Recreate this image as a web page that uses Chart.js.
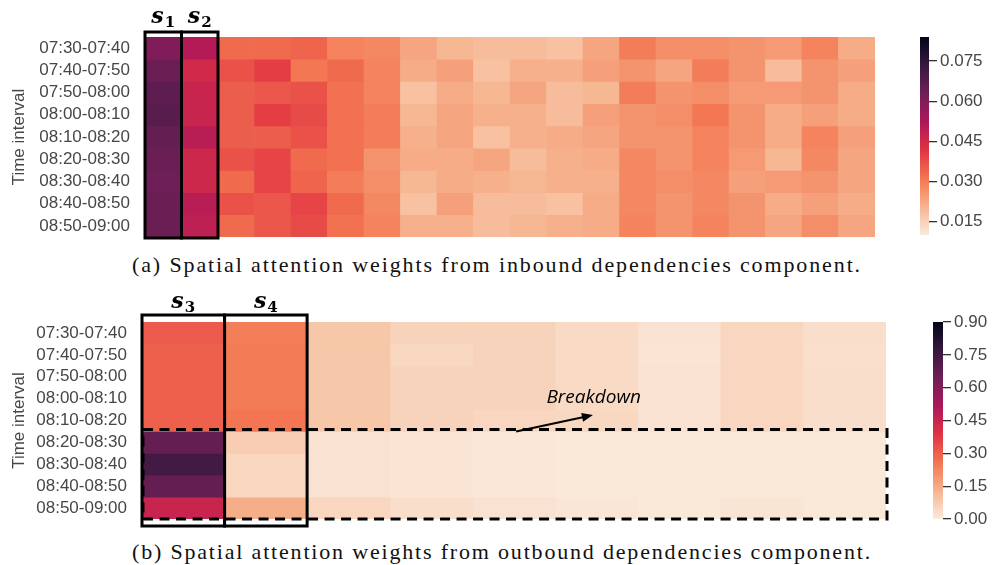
<!DOCTYPE html>
<html>
<head>
<meta charset="utf-8">
<script src="https://cdn.jsdelivr.net/npm/chart.js@4.4.1/dist/chart.umd.min.js"></script>
<style>
  html, body { margin: 0; padding: 0; background: #fff; }
  #fig { position: relative; width: 992px; height: 565px; overflow: hidden; background: #fff; }
  #fig canvas { position: absolute; }
  .caption {
    position: absolute; white-space: nowrap;
    font-family: "Liberation Serif", "DejaVu Serif", serif;
    font-size: 22px; color: #111; line-height: 24px;
  }
</style>
</head>
<body>
<div id="fig">
  <canvas id="heatIn" width="900" height="250" style="left:0;top:0"></canvas>
  <canvas id="barIn" width="92" height="250" style="left:900px;top:0"></canvas>
  <div class="caption" id="capIn" style="left:132px;top:253px">(a) Spatial attention weights from inbound dependencies component.</div>
  <canvas id="heatOut" width="900" height="250" style="left:0;top:285px"></canvas>
  <canvas id="barOut" width="92" height="250" style="left:900px;top:285px"></canvas>
  <div class="caption" id="capOut" style="left:132px;top:540px">(b) Spatial attention weights from outbound dependencies component.</div>
</div>
<script>
// Time-interval rows shared by both panels
const timeIntervals = [
  '07:30-07:40', '07:40-07:50', '07:50-08:00', '08:00-08:10', '08:10-08:20',
  '08:20-08:30', '08:30-08:40', '08:40-08:50', '08:50-09:00'
];

// Panel (a): inbound attention weights, 20 stations per interval
const inboundStations = Array.from({ length: 20 }, (_, i) => 's' + (i + 1));
const inboundWeights = [
  [0.060, 0.051, 0.033, 0.033, 0.034, 0.029, 0.028, 0.023, 0.020, 0.019, 0.019, 0.018, 0.023, 0.030, 0.027, 0.027, 0.026, 0.025, 0.029, 0.022],
  [0.064, 0.045, 0.037, 0.040, 0.031, 0.033, 0.029, 0.022, 0.024, 0.018, 0.021, 0.021, 0.024, 0.026, 0.023, 0.030, 0.026, 0.019, 0.026, 0.024],
  [0.066, 0.047, 0.035, 0.036, 0.037, 0.032, 0.029, 0.018, 0.022, 0.020, 0.023, 0.019, 0.020, 0.030, 0.026, 0.027, 0.025, 0.025, 0.026, 0.022],
  [0.067, 0.047, 0.035, 0.040, 0.038, 0.032, 0.030, 0.020, 0.023, 0.021, 0.021, 0.019, 0.024, 0.026, 0.027, 0.031, 0.026, 0.022, 0.024, 0.022],
  [0.065, 0.050, 0.035, 0.035, 0.037, 0.032, 0.030, 0.021, 0.023, 0.018, 0.021, 0.022, 0.023, 0.026, 0.026, 0.029, 0.026, 0.022, 0.029, 0.024],
  [0.064, 0.046, 0.037, 0.039, 0.033, 0.032, 0.026, 0.022, 0.022, 0.023, 0.019, 0.021, 0.022, 0.028, 0.026, 0.029, 0.025, 0.020, 0.028, 0.023],
  [0.063, 0.046, 0.033, 0.039, 0.034, 0.030, 0.027, 0.020, 0.022, 0.021, 0.020, 0.021, 0.021, 0.028, 0.027, 0.028, 0.024, 0.025, 0.026, 0.023],
  [0.064, 0.050, 0.037, 0.036, 0.039, 0.033, 0.028, 0.018, 0.024, 0.019, 0.019, 0.018, 0.022, 0.028, 0.026, 0.028, 0.026, 0.022, 0.024, 0.022],
  [0.064, 0.049, 0.033, 0.036, 0.038, 0.032, 0.029, 0.021, 0.021, 0.019, 0.020, 0.021, 0.022, 0.029, 0.026, 0.029, 0.026, 0.023, 0.027, 0.023]
];
const inboundRange = [0.010, 0.084];
const inboundTicks = [0.015, 0.030, 0.045, 0.060, 0.075];

// Panel (b): outbound attention weights, 9 stations per interval
const outboundStations = Array.from({ length: 9 }, (_, i) => 's' + (i + 3));
const outboundWeights = [
  [0.310, 0.240, 0.085, 0.055, 0.055, 0.040, 0.020, 0.050, 0.030],
  [0.300, 0.245, 0.085, 0.045, 0.055, 0.040, 0.015, 0.050, 0.028],
  [0.300, 0.245, 0.085, 0.055, 0.055, 0.040, 0.020, 0.050, 0.030],
  [0.300, 0.245, 0.085, 0.055, 0.055, 0.040, 0.020, 0.050, 0.030],
  [0.300, 0.260, 0.085, 0.055, 0.050, 0.045, 0.020, 0.050, 0.030],
  [0.670, 0.070, 0.020, 0.015, 0.010, 0.008, 0.008, 0.008, 0.008],
  [0.740, 0.050, 0.020, 0.015, 0.010, 0.008, 0.008, 0.008, 0.008],
  [0.670, 0.050, 0.020, 0.015, 0.010, 0.008, 0.008, 0.008, 0.008],
  [0.450, 0.140, 0.050, 0.030, 0.020, 0.012, 0.008, 0.015, 0.008]
];
const outboundRange = [0.0, 0.9];
const outboundTicks = [0.00, 0.15, 0.30, 0.45, 0.60, 0.75, 0.90];

// Reversed "rocket" colour map: 0 -> pale cream, 1 -> near black
const rocketStops = [
  [0, '#03051a'], [1 / 7, '#35193e'], [2 / 7, '#701f57'], [3 / 7, '#ad1759'],
  [4 / 7, '#e13342'], [5 / 7, '#f37651'], [6 / 7, '#f6b48f'], [1, '#faebdd']
];
function hexRgb(h) { return [1, 3, 5].map(i => parseInt(h.slice(i, i + 2), 16)); }
function rocketR(t) {
  const p = 1 - Math.min(1, Math.max(0, t));
  for (let i = 1; i < rocketStops.length; i++) {
    const [p1, c1] = rocketStops[i];
    if (p <= p1) {
      const [p0, c0] = rocketStops[i - 1];
      const f = (p - p0) / (p1 - p0);
      const a = hexRgb(c0), b = hexRgb(c1);
      return 'rgb(' + a.map((v, k) => Math.round(v + (b[k] - v) * f)).join(',') + ')';
    }
  }
  return rocketStops[rocketStops.length - 1][1];
}

const labelFont = { family: '"Liberation Sans", Arial, sans-serif', size: 17 };
const textGrey = '#474747';

// Boxes, station labels, dashed region and note drawn on top of a heatmap
const panelMarks = {
  id: 'panelMarks',
  afterDatasetsDraw(chart, args, o) {
    const { ctx, chartArea: a, scales: { x, y } } = chart;
    const colW = (a.right - a.left) / chart.data.labels.length;
    ctx.save();
    ctx.strokeStyle = '#000';
    ctx.fillStyle = '#000';
    if (o.dashed) {
      const top = y.getPixelForValue(o.dashed.fromRow) - 2;
      ctx.lineWidth = 3;
      ctx.setLineDash([10, 6.5]);
      ctx.strokeRect(a.left, top, a.right - a.left + 1, a.bottom - top);
      ctx.setLineDash([]);
    }
    (o.boxes || []).forEach(b => {
      const cx = x.getPixelForValue(b.col);
      const left = cx - colW / 2 + (o.boxShift || 0);
      ctx.lineWidth = 3;
      ctx.strokeRect(left, a.top - o.boxTop, colW, a.bottom - a.top + o.boxTop + o.boxBottom);
      const base = a.top - o.boxTop - o.labelGap;
      ctx.font = 'bold italic 22px "DejaVu Serif", "Liberation Serif", serif';
      const sw = ctx.measureText('s').width;
      ctx.font = 'bold 15px "DejaVu Serif", "Liberation Serif", serif';
      const nw = ctx.measureText(b.sub).width;
      const start = cx + (o.boxShift || 0) - (sw + nw + 1) / 2;
      ctx.textBaseline = 'alphabetic';
      ctx.textAlign = 'left';
      ctx.font = 'bold italic 22px "DejaVu Serif", "Liberation Serif", serif';
      ctx.fillText('s', start, base);
      ctx.font = 'bold 15px "DejaVu Serif", "Liberation Serif", serif';
      ctx.fillText(b.sub, start + sw + 1, base + 4);
    });
    if (o.note) {
      const n = o.note;
      const x0 = a.left + n.tail[0] * colW, y0 = y.getPixelForValue(n.tail[1]);
      const x1 = a.left + n.head[0] * colW, y1 = y.getPixelForValue(n.head[1]);
      const ang = Math.atan2(y1 - y0, x1 - x0);
      ctx.lineWidth = 2;
      ctx.beginPath();
      ctx.moveTo(x0, y0);
      ctx.lineTo(x1 - 8 * Math.cos(ang), y1 - 8 * Math.sin(ang));
      ctx.stroke();
      ctx.beginPath();
      ctx.moveTo(x1, y1);
      ctx.lineTo(x1 - 11 * Math.cos(ang) + 4.5 * Math.sin(ang), y1 - 11 * Math.sin(ang) - 4.5 * Math.cos(ang));
      ctx.lineTo(x1 - 11 * Math.cos(ang) - 4.5 * Math.sin(ang), y1 - 11 * Math.sin(ang) + 4.5 * Math.cos(ang));
      ctx.closePath();
      ctx.fill();
      ctx.font = 'italic 19px "Open Sans", "Noto Sans", sans-serif';
      ctx.textAlign = 'center';
      ctx.textBaseline = 'middle';
      ctx.fillText(n.text, a.left + n.at[0] * colW, y.getPixelForValue(n.at[1]));
    }
    ctx.restore();
  }
};

function heatmap(id, stations, weights, range, layout, marks) {
  const [vmin, vmax] = range;
  const datasets = weights.map((row, r) => ({
    label: timeIntervals[r],
    data: row.map(() => [r, r + 1]),
    backgroundColor: row.map(v => rocketR((v - vmin) / (vmax - vmin))),
    borderWidth: 0,
    barPercentage: 1,
    categoryPercentage: 1,
    grouped: false
  }));
  return new Chart(document.getElementById(id), {
    type: 'bar',
    data: { labels: stations, datasets },
    plugins: [panelMarks],
    options: {
      responsive: false,
      animation: false,
      layout: { padding: layout.padding },
      plugins: { legend: { display: false }, tooltip: { enabled: false }, panelMarks: marks },
      scales: {
        x: { type: 'category', display: false, offset: true },
        y: {
          type: 'linear', min: 0, max: timeIntervals.length, reverse: true,
          afterBuildTicks: s => { s.ticks = timeIntervals.map((_, i) => ({ value: i + 0.5 })); },
          afterFit: s => { s.width = layout.axisWidth; s.paddingTop = 0; s.paddingBottom = 0; },
          grid: { display: false, drawTicks: false },
          border: { display: false },
          ticks: {
            autoSkip: false, padding: layout.labelGap, color: textGrey, font: labelFont,
            callback: (v, i) => timeIntervals[i]
          },
          title: {
            display: true, text: 'Time interval', color: textGrey, font: labelFont,
            padding: { top: 9, bottom: 0 }
          }
        }
      }
    }
  });
}

function colorbar(id, range, ticks, decimals, layout) {
  const [vmin, vmax] = range;
  return new Chart(document.getElementById(id), {
    type: 'bar',
    data: {
      labels: [''],
      datasets: [{
        data: [[vmin, vmax]],
        borderWidth: 0, barPercentage: 1, categoryPercentage: 1,
        backgroundColor: c => {
          const area = c.chart.chartArea;
          if (!area) return '#faebdd';
          const g = c.chart.ctx.createLinearGradient(0, area.bottom, 0, area.top);
          for (let k = 0; k <= 40; k++) g.addColorStop(k / 40, rocketR(k / 40));
          return g;
        }
      }]
    },
    options: {
      responsive: false,
      animation: false,
      layout: { padding: layout.padding },
      plugins: { legend: { display: false }, tooltip: { enabled: false } },
      scales: {
        x: { display: false },
        y: {
          position: 'right', min: vmin, max: vmax,
          afterBuildTicks: s => { s.ticks = ticks.map(v => ({ value: v })); },
          afterFit: s => { s.width = layout.axisWidth; s.paddingTop = 0; s.paddingBottom = 0; },
          grid: { drawOnChartArea: false, drawTicks: true, tickLength: 8, color: '#333', lineWidth: 1.3 },
          border: { display: false },
          ticks: {
            autoSkip: false, padding: 3, color: textGrey, font: labelFont,
            callback: v => v.toFixed(decimals)
          }
        }
      }
    }
  });
}

heatmap('heatIn', inboundStations, inboundWeights, inboundRange,
  { padding: { left: 0, right: 25, top: 37, bottom: 13 }, axisWidth: 145, labelGap: 15 },
  {
    boxTop: 5, boxBottom: 1, labelGap: 9,
    boxes: [{ col: 0, sub: '1' }, { col: 1, sub: '2' }]
  });
colorbar('barIn', inboundRange, inboundTicks, 3,
  { padding: { left: 20, right: 0, top: 37, bottom: 15 }, axisWidth: 63 });

heatmap('heatOut', outboundStations, outboundWeights, outboundRange,
  { padding: { left: 0, right: 14, top: 37, bottom: 16 }, axisWidth: 143, labelGap: 16 },
  {
    boxTop: 7, boxBottom: 7, labelGap: 7, boxShift: -1,
    boxes: [{ col: 0, sub: '3' }, { col: 1, sub: '4' }],
    dashed: { fromRow: 5 },
    note: { text: 'Breakdown', tail: [4.52, 5], head: [5.45, 4.25], at: [5.46, 3.47] }
  });
colorbar('barOut', outboundRange, outboundTicks, 2,
  { padding: { left: 33, right: 0, top: 37, bottom: 16 }, axisWidth: 49 });

// Spread each caption to its printed width
function fitCaption(id, width) {
  const el = document.getElementById(id);
  const c = document.createElement('canvas').getContext('2d');
  const cs = getComputedStyle(el);
  c.font = cs.fontSize + ' ' + cs.fontFamily;
  const natural = c.measureText(el.textContent).width;
  el.style.letterSpacing = ((width - natural) / el.textContent.length) + 'px';
}
fitCaption('capIn', 730);
fitCaption('capOut', 740);
</script>
</body>
</html>
